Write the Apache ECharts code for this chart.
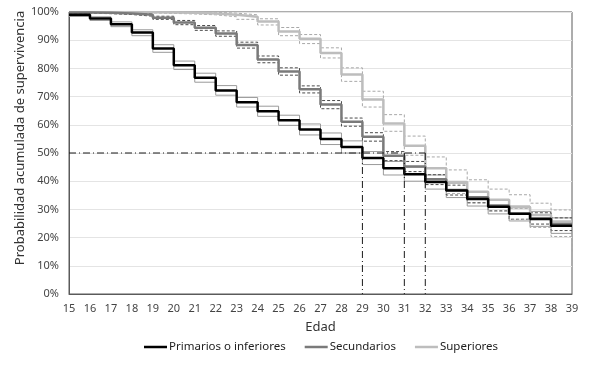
<!DOCTYPE html>
<html lang="es">
<head>
    <meta charset="UTF-8">
    <title>Probabilidad acumulada de supervivencia</title>
    <script src="https://cdn.jsdelivr.net/npm/echarts@6/dist/echarts.min.js"></script>
    <style>
        html, body { margin: 0; padding: 0; background: #fff; }
        #chart { width: 589px; height: 366px; }
    </style>
</head>
<body>
<div id="chart"></div>
<script>
    // edades (eje X)
    const ages = [15, 16, 17, 18, 19, 20, 21, 22, 23, 24, 25, 26, 27, 28, 29, 30, 31, 32, 33, 34, 35, 36, 37, 38, 39];

    // Primarios o inferiores
    const primMain  = [99, 97.7, 95.7, 92.7, 87.1, 81.1, 76.7, 72.2, 68, 64.8, 61.6, 58.3, 55, 52.1, 48.2, 44.6, 42.5, 39.7, 36.7, 33.7, 30.9, 28.5, 26.6, 24.2, 24.2];
    const primUpper = [99.6, 98.3, 96.5, 93.7, 88.4, 82.6, 78.3, 73.9, 69.7, 66.6, 63.4, 60.3, 57.1, 54.3, 50.5, 47, 45, 42.2, 39.3, 36.3, 33.5, 31.2, 29.3, 27, 27];
    const primLower = [98.4, 97, 94.8, 91.6, 85.7, 79.6, 75.1, 70.5, 66.3, 63, 59.8, 56.4, 53, 50, 45.9, 42.2, 40, 37.2, 34.2, 31.2, 28.4, 25.9, 24, 21.5, 21.5];

    // Secundarios
    const secMain  = [99.8, 99.7, 99.5, 99, 98, 96.3, 94.4, 92.4, 88.3, 83.2, 78.9, 72.6, 67.2, 61.1, 55.8, 49, 45.2, 40.7, 36.9, 34.3, 31.4, 28.5, 26.8, 24.8, 24.8];
    const secUpper = [100, 99.9, 99.8, 99.4, 98.5, 97, 95.2, 93.3, 89.3, 84.4, 80.2, 73.8, 68.6, 62.4, 57.2, 50.5, 47, 42.3, 38.6, 36, 33.2, 30.5, 28.8, 27, 27];
    const secLower = [99.6, 99.4, 99.1, 98.5, 97.4, 95.5, 93.5, 91.4, 87.2, 82, 77.6, 71.3, 65.7, 59.5, 54.2, 47.3, 43.4, 38.8, 35.1, 32.4, 29.5, 26.5, 24.8, 22.5, 22.5];

    // Superiores
    const supMain  = [100, 100, 100, 99.9, 99.8, 99.7, 99.5, 99, 98.3, 96.6, 93.1, 90.5, 85.5, 77.8, 69, 60.5, 52.6, 44.6, 39.7, 36.3, 33.4, 30.8, 28, 25.7, 25.7];
    const supUpper = [100, 100, 100, 100, 100, 100, 99.9, 99.6, 99, 97.6, 94.5, 92, 87.3, 80.2, 71.9, 63.6, 56, 48.6, 44, 40.5, 37.2, 35.2, 32.2, 29.8, 29.8];
    const supLower = [100, 100, 99.9, 99.7, 99.5, 99.3, 99, 98.3, 97.4, 95.4, 91.6, 88.8, 83.7, 75.4, 66.3, 57.7, 49.2, 40.8, 35.6, 32.2, 29.3, 26.5, 23.6, 20.4, 14.5];

    // mediana (50%) de cada grupo
    const medianLevel = 50;
    const medianAges = [29, 31, 32];

    const groupNames = ['Primarios o inferiores', 'Secundarios', 'Superiores'];
    const groupColors = ['#000000', '#7a7a7a', '#bdbdbd'];

    const toPairs = vals => ages.map((a, i) => [a, vals[i]]);
    const dashDot = [7, 3, 1, 3];

    function stepLine(name, vals, color, width, type, z) {
        return {
            name: name,
            type: 'line',
            step: 'end',
            data: toPairs(vals),
            symbol: 'none',
            silent: true,
            z: z,
            color: color,
            itemStyle: {color: color},
            lineStyle: {color: color, width: width, type: type}
        };
    }

    const series = [
        stepLine('primUpper', primUpper, '#9a9a9a', 1, 'solid', 2),
        stepLine('primLower', primLower, '#9a9a9a', 1, 'solid', 2),
        stepLine('secUpper', secUpper, '#4a4a4a', 1, [3, 2], 2),
        stepLine('secLower', secLower, '#4a4a4a', 1, [3, 2], 2),
        stepLine('supUpper', supUpper, '#a8a8a8', 1, [3, 2], 2),
        stepLine('supLower', supLower, '#a8a8a8', 1, [3, 2], 2),
        stepLine(groupNames[2], supMain, groupColors[2], 2.5, 'solid', 4),
        stepLine(groupNames[1], secMain, groupColors[1], 2.5, 'solid', 5),
        stepLine(groupNames[0], primMain, groupColors[0], 2.5, 'solid', 6),
        {
            name: 'ref50',
            type: 'line',
            data: [[ages[0], medianLevel], [Math.max(...medianAges), medianLevel]],
            symbol: 'none',
            silent: true,
            z: 7,
            lineStyle: {color: '#1a1a1a', width: 1, type: dashDot}
        }
    ];
    medianAges.forEach((a, i) => {
        series.push({
            name: 'med' + i,
            type: 'line',
            data: [[a, medianLevel], [a, 0]],
            symbol: 'none',
            silent: true,
            z: 7,
            lineStyle: {color: '#1a1a1a', width: 1, type: dashDot}
        });
    });

    const chart = echarts.init(document.getElementById('chart'), null, {renderer: 'canvas'});
    chart.setOption({
        animation: false,
        textStyle: {fontFamily: 'Noto Sans'},
        grid: {
            left: 69, right: 17, top: 12, bottom: 72,
            show: true, borderColor: '#5a5a5a', borderWidth: 1
        },
        legend: {
            data: groupNames,
            bottom: 8,
            left: 139,
            icon: 'rect',
            itemWidth: 23,
            itemHeight: 2.5,
            itemGap: 19,
            textStyle: {fontFamily: 'Noto Sans', fontSize: 11.5, color: '#222', padding: [0, 0, 0, -3]}
        },
        graphic: [{
            type: 'text',
            x: 20,
            y: 138,
            rotation: Math.PI / 2,
            style: {
                text: 'Probabilidad acumulada de supervivencia',
                font: '13px "Noto Sans"',
                fill: '#333',
                align: 'center',
                verticalAlign: 'middle'
            }
        }],
        xAxis: {
            type: 'value',
            min: 15,
            max: 39,
            interval: 1,
            name: 'Edad',
            nameLocation: 'middle',
            nameGap: 27,
            nameTextStyle: {fontSize: 13, color: '#333'},
            axisLine: {lineStyle: {color: '#5a5a5a', width: 1}},
            axisTick: {show: false},
            axisLabel: {fontSize: 11, color: '#444', margin: 9},
            splitLine: {show: false}
        },
        yAxis: {
            type: 'value',
            min: 0,
            max: 100,
            interval: 10,
            axisLine: {show: true, lineStyle: {color: '#5a5a5a', width: 1}},
            axisTick: {show: false},
            axisLabel: {fontSize: 11, color: '#444', margin: 10, formatter: '{value}%'},
            splitLine: {lineStyle: {color: '#e4e4e4', width: 1}}
        },
        series: series
    });
</script>
</body>
</html>
